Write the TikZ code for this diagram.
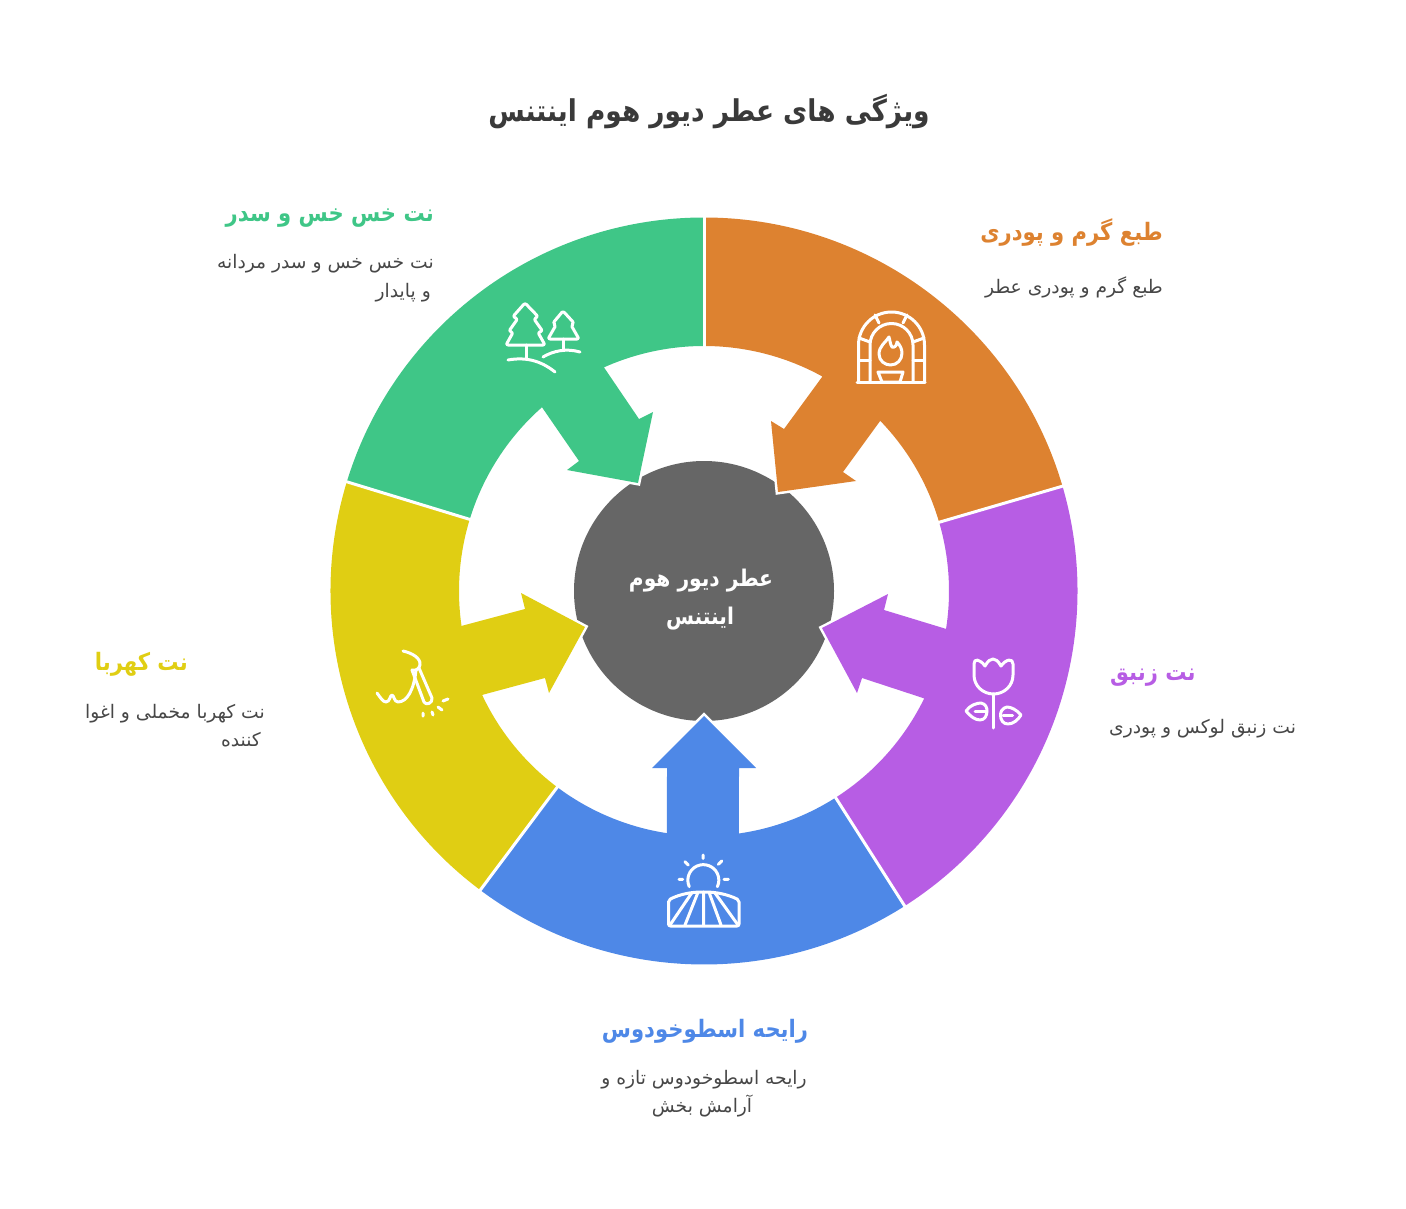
\documentclass[tikz,border=0pt]{standalone}
\usepackage{fontspec}
\usepackage{xcolor}
\newfontfamily\arabicfont[Script=Arabic]{DejaVu Sans}
\newfontfamily\arabicbold[Script=Arabic, FakeStretch=0.88]{DejaVu Sans Bold}
\TeXXeTstate=1
\definecolor{cOrange}{HTML}{DD8230}
\definecolor{cGreen}{HTML}{3FC687}
\definecolor{cYellow}{HTML}{E0CE13}
\definecolor{cBlue}{HTML}{4E88E7}
\definecolor{cPurple}{HTML}{B75DE4}
\definecolor{cHub}{HTML}{666666}
\definecolor{cBody}{HTML}{474747}
\definecolor{cTitle}{HTML}{3A3A3A}
\newcommand{\fabody}[1]{\arabicfont\fontsize{18.7}{22}\selectfont\beginR #1\endR}
\newcommand{\fahead}[1]{\arabicbold\fontsize{24}{28}\selectfont\beginR #1\endR}
\tikzset{
  tipline/.style={draw=white, line width=5pt, miter limit=20},
  divider/.style={draw=white, line width=3pt},
  icon/.style={draw=white, line width=3pt, line join=round, line cap=round},
  bodylabel/.style={text=cBody, inner sep=0pt}
}
\begin{document}
\begin{tikzpicture}[x=1pt, y=-1pt]
\useasboundingbox (0,0) rectangle (1406,1209);
\coordinate (hub) at (704,591);

% hub circle
\node[circle, fill=cHub, minimum size=260pt, inner sep=0pt] (hubdisc) at (hub) {};

% white edges of the arrow tips
\draw[tipline] (856,481) -- (778,492) -- (771,421);
\draw[tipline] (567,470) -- (638,483) -- (653,412);
\draw[tipline] (549,693) -- (585,627) -- (521,593);
\draw[tipline] (756,768) -- (704,716) -- (652,768);
\draw[tipline] (888,594) -- (822,628) -- (857,693);

% orange wedge
\fill[cOrange] ([shift={(-90:373.5)}]hub) arc[start angle=-90, end angle=-16.3, radius=373.5]
  -- ([shift={(-16.3:245)}]hub) arc[start angle=-16.3, end angle=-44, radius=245]
  -- (843,472) -- (856,481) -- (778,492) -- (771,421) -- (784,429)
  -- ([shift={(-61.1:245)}]hub) arc[start angle=-61.1, end angle=-90, radius=245] -- cycle;
% green wedge
\fill[cGreen] ([shift={(-90:373.5)}]hub) arc[start angle=-90, end angle=-163, radius=373.5]
  -- ([shift={(-163:245)}]hub) arc[start angle=-163, end angle=-131.4, radius=245]
  -- (579,461) -- (567,470) -- (638,483) -- (653,412) -- (639,419)
  -- ([shift={(-114.1:245)}]hub) arc[start angle=-114.1, end angle=-90, radius=245] -- cycle;
% yellow wedge
\fill[cYellow] ([shift={(-163:373.5)}]hub) arc[start angle=-163, end angle=-233.2, radius=373.5]
  -- ([shift={(-233.2:245)}]hub) arc[start angle=-233.2, end angle=-205.1, radius=245]
  -- (545,678) -- (549,693) -- (585,627) -- (521,593) -- (525,609)
  -- ([shift={(-188.2:245)}]hub) arc[start angle=-188.2, end angle=-163, radius=245] -- cycle;
% blue wedge
\fill[cBlue] ([shift={(-233.2:373.5)}]hub) arc[start angle=-233.2, end angle=-302.5, radius=373.5]
  -- ([shift={(-302.5:245)}]hub) arc[start angle=-302.5, end angle=-278.2, radius=245]
  -- (739,768) -- (756,768) -- (704,716) -- (652,768) -- (667,768)
  -- ([shift={(-261.3:245)}]hub) arc[start angle=-261.3, end angle=-233.2, radius=245] -- cycle;
% purple wedge
\fill[cPurple] ([shift={(-302.5:373.5)}]hub) arc[start angle=-302.5, end angle=-376.3, radius=373.5]
  -- ([shift={(-376.3:245)}]hub) arc[start angle=-376.3, end angle=-351.1, radius=245]
  -- (884,610) -- (888,594) -- (822,628) -- (857,693) -- (862,678)
  -- ([shift={(-334:245)}]hub) arc[start angle=-334, end angle=-302.5, radius=245] -- cycle;

% dividers
\draw[divider] ([shift={(-90:243)}]hub) -- ([shift={(-90:376)}]hub);
\draw[divider] ([shift={(-16.3:243)}]hub) -- ([shift={(-16.3:376)}]hub);
\draw[divider] ([shift={(-163:243)}]hub) -- ([shift={(-163:376)}]hub);
\draw[divider] ([shift={(-233.2:243)}]hub) -- ([shift={(-233.2:376)}]hub);
\draw[divider] ([shift={(-302.5:243)}]hub) -- ([shift={(-302.5:376)}]hub);

% fireplace icon
\draw[icon] (857,382) -- (925,382);
\draw[icon] (858.5,382) -- (858.5,345) arc[start angle=180, end angle=360, radius=33] -- (924.5,382);
\draw[icon] (870,382) -- (870,345) arc[start angle=180, end angle=360, radius=21.5] -- (913,382);
\draw[icon] (859,338) -- (870,342) (875,315) -- (879,323) (907,315) -- (903,323) (913,342) -- (924,338);
\draw[icon] (859,360) -- (870,360) (913,360) -- (924,360);
\draw[icon] (889,337) .. controls (886,342) and (879,346) .. (879,354) .. controls (879,361) and (885,365) .. (890.5,365)
  .. controls (897,365) and (902,360) .. (902,353) .. controls (902,349) and (900,345) .. (897,342)
  .. controls (897,346) and (894,348) .. (892,347) .. controls (890,344) and (890,340) .. (889,337) -- cycle;
\draw[icon] (878,372) -- (903,372) -- (900,382) -- (882,382) -- cycle;

% trees icon
\draw[icon, rounded corners=2pt] (525,303) -- (513,316.5) -- (517.5,319) -- (509,331) -- (513,332.5) -- (506,345)
  -- (545,345) -- (538,332.5) -- (542.5,331) -- (534,319) -- (538,316.5) -- cycle;
\draw[icon] (526,345) -- (526,358);
\draw[icon] (508,360) .. controls (525,357) and (540,360) .. (555,372);
\draw[icon, rounded corners=2pt] (563,311) -- (553,323) -- (556,325) -- (548,339) -- (579,339) -- (571,325) -- (574,323) -- cycle;
\draw[icon] (563,339) -- (563,349);
\draw[icon] (543,357) .. controls (553,351) and (566,348) .. (580,352);

% amber icon
\draw[icon] (403,651) .. controls (412,653) and (421,658) .. (420,665) .. controls (419,669) and (416,671) .. (412,670);
\draw[icon] (377,693) .. controls (380,697) and (383,702) .. (386,702) .. controls (390,702) and (390,695) .. (392,695)
  .. controls (394,695) and (394,702) .. (398,702) .. controls (407,702) and (414,690) .. (416,670);
\draw[icon] (412,670) -- (424,702) .. controls (426,706) and (433,703) .. (432,698) -- (419,668);
\draw[icon] (423,713) -- (423,716) (432,712) -- (433,715) (438,707) -- (442,710) (443,701) -- (448,699);

% sunrise icon
\draw[icon] (689.3,886.7) arc[start angle=155, end angle=385, radius=15.5];
\draw[icon] (703,855) -- (703,858.5) (685,861.7) -- (688.3,865) (721.7,861) -- (718.3,864.3) (679,879.3) -- (682.7,879.3) (724,879.3) -- (728.3,879.3);
\draw[icon, rounded corners=2pt] (668.5,926) -- (668.5,900) .. controls (680,894) and (692,892) .. (703.5,892)
  .. controls (715,892) and (727,894) .. (739,900) -- (739,926) -- cycle;
\draw[icon] (670,925) -- (691.7,893) (685,925) -- (697.7,893) (703.5,925) -- (703.5,892) (721,925) -- (709.3,893) (738,925) -- (715,893);

% tulip icon
\draw[icon] (974,675) -- (974,664) .. controls (974,658) and (980,659) .. (985,666) .. controls (988,661) and (990,659) .. (993,659)
  .. controls (996,659) and (998,661) .. (1001,666) .. controls (1006,659) and (1013,658) .. (1013,664) -- (1013,675)
  .. controls (1013,686) and (1004,694) .. (993.5,694) .. controls (983,694) and (974,686) .. cycle;
\draw[icon] (993.5,694) -- (993.5,728);
\draw[icon] (966,711) .. controls (970,705) and (977,703) .. (981,703) .. controls (986,704) and (987,708) .. (987,711)
  .. controls (987,715) and (985,720) .. (980,720) .. controls (975,720) and (970,716) .. cycle;
\draw[icon] (975,711.3) -- (986,711.3);
\draw[icon] (1021,715) .. controls (1017,710) and (1011,707) .. (1007,707) .. controls (1002,708) and (1000.5,712) .. (1000.5,715)
  .. controls (1000.5,720) and (1003,724) .. (1008,724) .. controls (1013,724) and (1018,720) .. cycle;
\draw[icon] (1003,715.3) -- (1012.5,715.3);

% title
\node[anchor=base, inner sep=0pt, text=cTitle] (title) at (709,122) {\arabicbold\fontsize{30}{36}\selectfont\beginR ویژگی های عطر دیور هوم اینتنس\endR};

% hub text
\node[anchor=base, inner sep=0pt, text=white] (hubtop) at (701,586) {\arabicbold\fontsize{23}{27}\selectfont\beginR عطر دیور هوم\endR};
\node[anchor=base, inner sep=0pt, text=white] (hubbot) at (700,624) {\arabicbold\fontsize{23}{27}\selectfont\beginR اینتنس\endR};

% orange labels
\node[anchor=base east, inner sep=0pt, text=cOrange] (orangehead) at (1163,241) {\fahead{طبع گرم و پودری}};
\node[anchor=base east, bodylabel] (orangebody) at (1163,293) {\fabody{طبع گرم و پودری عطر}};
% green labels
\node[anchor=base east, inner sep=0pt, text=cGreen] (greenhead) at (434,222) {\fahead{نت خس خس و سدر}};
\node[anchor=base east, bodylabel] (greenbodya) at (434,269) {\fabody{نت خس خس و سدر مردانه}};
\node[anchor=base east, bodylabel] (greenbodyb) at (431,298) {\fabody{و پایدار}};
% purple labels
\node[anchor=base west, inner sep=0pt, text=cPurple] (purplehead) at (1110,680) {\fahead{نت زنبق}};
\node[anchor=base west, bodylabel] (purplebody) at (1109,733) {\fabody{نت زنبق لوکس و پودری}};
% yellow labels
\node[anchor=base east, inner sep=0pt, text=cYellow] (yellowhead) at (188,670) {\fahead{نت کهربا}};
\node[anchor=base east, bodylabel] (yellowbodya) at (265,718) {\fabody{نت کهربا مخملی و اغوا}};
\node[anchor=base east, bodylabel] (yellowbodyb) at (261,746) {\fabody{کننده}};
% blue labels
\node[anchor=base, inner sep=0pt, text=cBlue] (bluehead) at (705,1037) {\fahead{رایحه اسطوخودوس}};
\node[anchor=base, bodylabel] (bluebodya) at (704,1084) {\fabody{رایحه اسطوخودوس تازه و}};
\node[anchor=base, bodylabel] (bluebodyb) at (702,1112) {\fabody{آرامش بخش}};
\end{tikzpicture}
\end{document}
